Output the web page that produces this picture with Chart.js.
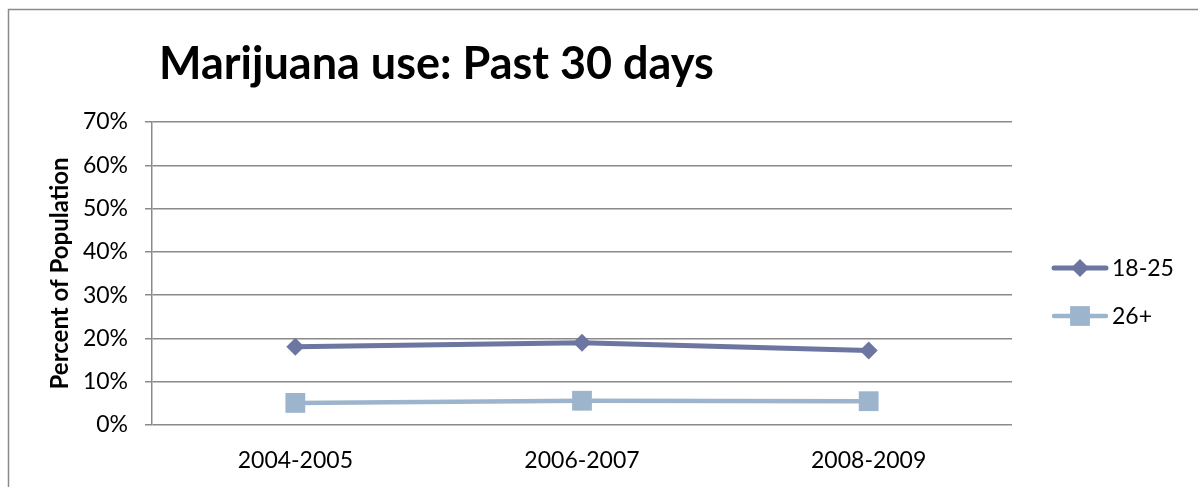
<!DOCTYPE html>
<html>
<head>
<meta charset="utf-8">
<script src="https://cdn.jsdelivr.net/npm/chart.js@4/dist/chart.umd.min.js"></script>
<style>
  html, body { margin: 0; padding: 0; background: #ffffff; }
  #wrap { width: 1198px; height: 487px; position: relative; }
</style>
</head>
<body>
<div id="wrap"><canvas id="c" width="1198" height="487"></canvas></div>
<script>
// Survey periods and past-30-day marijuana use (percent of population)
const periods = ['2004-2005', '2006-2007', '2008-2009'];
const ages18to25 = [18.1, 19.0, 17.2];
const ages26plus = [5.1, 5.6, 5.5];
const seriesNames = ['18-25', '26+'];
const yTicks = [0, 10, 20, 30, 40, 50, 60, 70];

const FONT = 'Lato, "Noto Sans", sans-serif';
const GRID = '#8a8a8a';

// Frame, heading and side legend drawn on the canvas
const decorations = {
  id: 'decorations',
  beforeDraw(chart) {
    const ctx = chart.ctx;
    ctx.save();
    ctx.fillStyle = '#ffffff';
    ctx.fillRect(0, 0, chart.width, chart.height);
    ctx.strokeStyle = GRID;
    ctx.lineWidth = 1.5;
    ctx.beginPath();
    ctx.moveTo(8.5, chart.height);
    ctx.lineTo(8.5, 9.5);
    ctx.lineTo(chart.width, 9.5);
    ctx.stroke();
    ctx.restore();
  },
  afterDraw(chart) {
    const ctx = chart.ctx;
    ctx.save();
    ctx.fillStyle = '#000000';
    ctx.font = 'bold 45px ' + FONT;
    ctx.textBaseline = 'alphabetic';
    ctx.textAlign = 'left';
    ctx.fillText('Marijuana use: Past 30 days', 159, 79);

    const rows = [268, 316];
    chart.data.datasets.forEach((ds, i) => {
      const y = rows[i];
      const x0 = 1054, x1 = 1106, xm = (x0 + x1) / 2;
      ctx.strokeStyle = ds.borderColor;
      ctx.lineWidth = ds.borderWidth;
      ctx.lineCap = 'round';
      ctx.beginPath();
      ctx.moveTo(x0, y);
      ctx.lineTo(x1, y);
      ctx.stroke();
      ctx.fillStyle = ds.pointBackgroundColor;
      ctx.beginPath();
      if (ds.pointStyle === 'rectRot') {
        const r = ds.pointRadius;
        ctx.moveTo(xm, y - r);
        ctx.lineTo(xm + r, y);
        ctx.lineTo(xm, y + r);
        ctx.lineTo(xm - r, y);
        ctx.closePath();
      } else {
        const h = ds.pointRadius * Math.SQRT1_2;
        ctx.rect(xm - h, y - h, 2 * h, 2 * h);
      }
      ctx.fill();
      ctx.fillStyle = '#000000';
      ctx.font = '23px ' + FONT;
      ctx.textBaseline = 'middle';
      ctx.fillText(ds.label, 1112, y + 1);
    });
    ctx.restore();
  }
};

new Chart(document.getElementById('c'), {
  type: 'line',
  data: {
    labels: periods,
    datasets: [
      {
        label: seriesNames[0],
        data: ages18to25,
        borderColor: '#6c76a0',
        backgroundColor: '#6c76a0',
        pointBackgroundColor: '#6c76a0',
        pointBorderColor: '#6c76a0',
        pointBorderWidth: 0,
        borderWidth: 5,
        pointStyle: 'rectRot',
        pointRadius: 9,
        pointHoverRadius: 9,
        tension: 0
      },
      {
        label: seriesNames[1],
        data: ages26plus,
        borderColor: '#9db5cc',
        backgroundColor: '#9db5cc',
        pointBackgroundColor: '#9db5cc',
        pointBorderColor: '#9db5cc',
        pointBorderWidth: 0,
        borderWidth: 4.5,
        pointStyle: 'rect',
        pointRadius: 14,
        pointHoverRadius: 14,
        tension: 0
      }
    ]
  },
  options: {
    responsive: false,
    animation: false,
    devicePixelRatio: 1,
    layout: { padding: { top: 122, right: 186, bottom: 0, left: 0 } },
    plugins: {
      legend: { display: false },
      title: { display: false },
      tooltip: { enabled: false }
    },
    scales: {
      x: {
        offset: true,
        grid: { display: false, drawTicks: false },
        border: { display: false },
        ticks: { color: '#000000', font: { family: FONT, size: 23 }, padding: 22, maxRotation: 0 },
        afterFit(scale) { scale.height = 62; }
      },
      y: {
        min: 0,
        max: 70,
        afterBuildTicks(scale) { scale.ticks = yTicks.map(v => ({ value: v })); },
        grid: { color: GRID, lineWidth: 1.5, tickLength: 7, drawTicks: true },
        border: { display: true, color: GRID, width: 1.5 },
        ticks: {
          color: '#000000',
          font: { family: FONT, size: 23 },
          padding: 17,
          callback: v => v + '%'
        },
        title: {
          display: true,
          text: 'Percent of Population',
          color: '#000000',
          font: { family: FONT, size: 24, weight: 'bold' },
          padding: { top: 46, bottom: 0 }
        },
        afterFit(scale) { scale.width = 152; }
      }
    }
  },
  plugins: [decorations]
});
</script>
</body>
</html>
